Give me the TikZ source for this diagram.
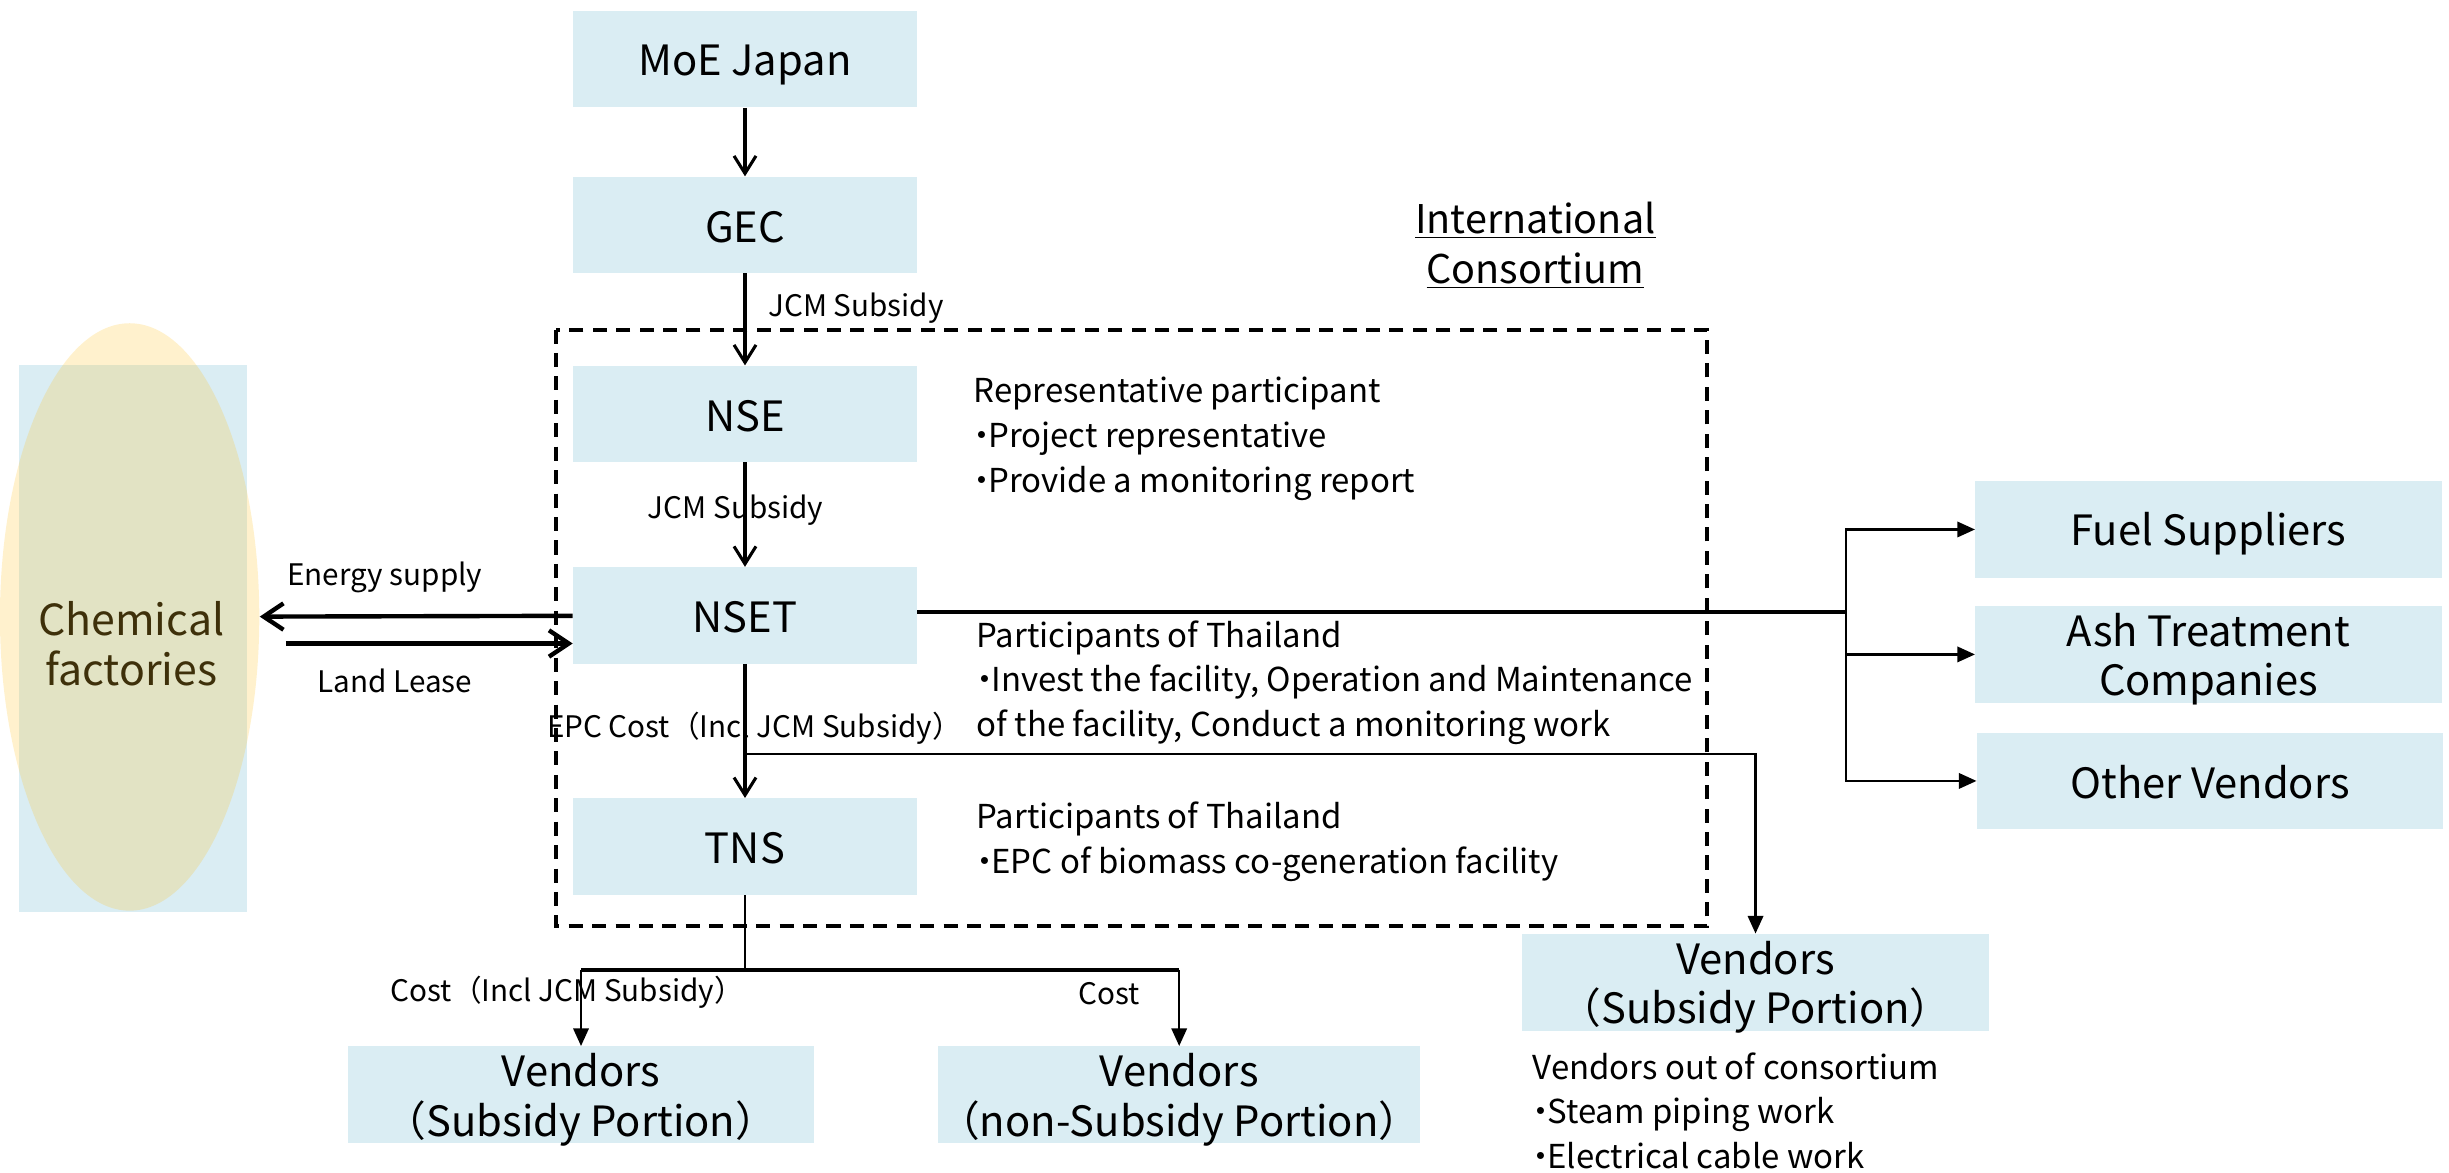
\documentclass[tikz,border=0pt]{standalone}
\usepackage{fontspec}
\setmainfont{Noto Sans CJK JP}
\usepackage{xcolor}
\usetikzlibrary{arrows.meta,shapes.geometric}
\definecolor{boxblue}{RGB}{218,237,243}
\definecolor{factyellow}{RGB}{255,196,40}
\definecolor{factbrown}{RGB}{62,48,10}
\newcommand{\itemdot}{\kern-0.25em・\kern-0.3em}

\tikzset{
  box/.style={fill=boxblue, inner sep=0pt, minimum width=5.5cm, minimum height=1.54cm, align=center, font=\fontsize{19}{22.5}\selectfont,
    execute at begin node={\rule[-0.2em]{0pt}{1.22em}}},
  wbox/.style={box, minimum width=7.46cm, minimum height=1.55cm},
  twobox/.style={wbox, text depth=-4.7pt},
  note/.style={inner sep=0pt, anchor=west, align=left, font=\fontsize{15}{20.3}\selectfont},
  lbl/.style={inner sep=0pt, font=\fontsize{13.5}{16}\selectfont},
  flow/.style={line width=1.4pt, -{Straight Barb[length=8pt,width=10pt]}},
  bigflow/.style={line width=2pt, -{Straight Barb[length=9pt,width=12pt]}},
  branch/.style={line width=1pt, -{Triangle[length=8pt,width=7pt]}},
  trunk/.style={line width=2pt},
  consort/.style={line width=1.8pt, dash pattern=on 0.225cm off 0.15cm},
}

\begin{document}
\begin{tikzpicture}[x=0.025cm, y=-0.025cm]
    \useasboundingbox (0,0) rectangle (1568,751);

    \node[fill=boxblue, minimum width=3.65cm, minimum height=8.75cm] (chemrect) at (85,409) {};
    \node[ellipse, fill=factyellow, fill opacity=0.23, minimum width=4.15cm, minimum height=9.4cm, inner sep=0pt] (chem) at (83,395) {};
    \node[text=factbrown, align=center, font=\fontsize{19.5}{22.7}\selectfont] (chemlbl) at (84,412) {Chemical\\factories};

    \draw [consort] (356,211) rectangle (1093,593);
    \node[align=center, font=\fontsize{18}{22.7}\selectfont] (consortium) at (983,157) {\underline{International}\\\underline{Consortium}};

    \node[box] (moe)  at (477, 38) {MoE Japan};
    \node[box] (gec)  at (477,144) {GEC};
    \node[box] (nse)  at (477,265) {NSE};
    \node[box] (nset) at (477,394) {NSET};
    \node[box] (tns)  at (477,542) {TNS};
    \node[twobox] (vendl)   at (372,701) {Vendors\\（Subsidy Portion）};
    \node[twobox] (vendnon) at (755,701) {Vendors\\（non-Subsidy Portion）};
    \node[twobox] (vendr)   at (1124,629) {Vendors\\（Subsidy Portion）};
    \node[wbox] (fuel)  at (1414,339) {Fuel Suppliers};
    \node[twobox] (ash)   at (1414,419) {Ash Treatment\\Companies};
    \node[wbox] (other) at (1415,500) {Other Vendors};

    \node[note] (repnote)  at (623,281) {Representative participant\\\itemdot Project representative\\\itemdot Provide a monitoring report};
    \node[note] (nsetnote) at (625,437) {Participants of Thailand\\\itemdot Invest the facility, Operation and Maintenance\\of the facility, Conduct a monitoring work};
    \node[note] (tnsnote)  at (625,539) {Participants of Thailand\\\itemdot EPC of biomass co-generation facility};
    \node[note] (outnote)  at (981,711) {Vendors out of consortium\\\itemdot Steam piping work\\\itemdot Electrical cable work};

    \draw [flow] (moe) to (gec);
    \draw [flow] (gec) to node[lbl, right=0.35cm, pos=0.38] {JCM Subsidy} (nse);
    \draw [flow] (nse) to node[lbl, pos=0.456, xshift=-0.15cm] {JCM Subsidy} (nset);
    \draw [flow] (nset) to node[lbl, pos=0.477, xshift=0.15cm] {EPC Cost（Incl JCM Subsidy）} (tns);

    \coordinate (epcsplit) at (477,483);
    \draw [branch] (epcsplit) -| (vendr);

    \coordinate (tnssplit) at (477,621);
    \coordinate (costl) at (372,621);
    \coordinate (costr) at (755,621);
    \draw [line width=1pt] (tns) to (tnssplit);
    \draw [trunk] (costl) to (costr);
    \draw [branch] (costl) to node[lbl, pos=0.29, xshift=-0.22cm] {Cost（Incl JCM Subsidy）} (vendl);
    \draw [branch] (costr) to node[lbl, pos=0.31, xshift=-1.12cm] {Cost} (vendnon);

    \draw [bigflow] (nset) to node[lbl, pos=0.6, yshift=0.625cm] {Energy supply} (chem);
    \coordinate (lease) at (183,412);
    \draw [bigflow] (lease) to node[lbl, pos=0.38, yshift=-0.6cm] {Land Lease} (lease -| nset.west);

    \coordinate (fork) at (1182,392);
    \draw [trunk] (nset.east |- fork) to (fork);
    \draw [branch] (fork) |- (fuel);
    \draw [branch] (fork) |- (ash);
    \draw [branch] (fork) |- (other);
\end{tikzpicture}
\end{document}
